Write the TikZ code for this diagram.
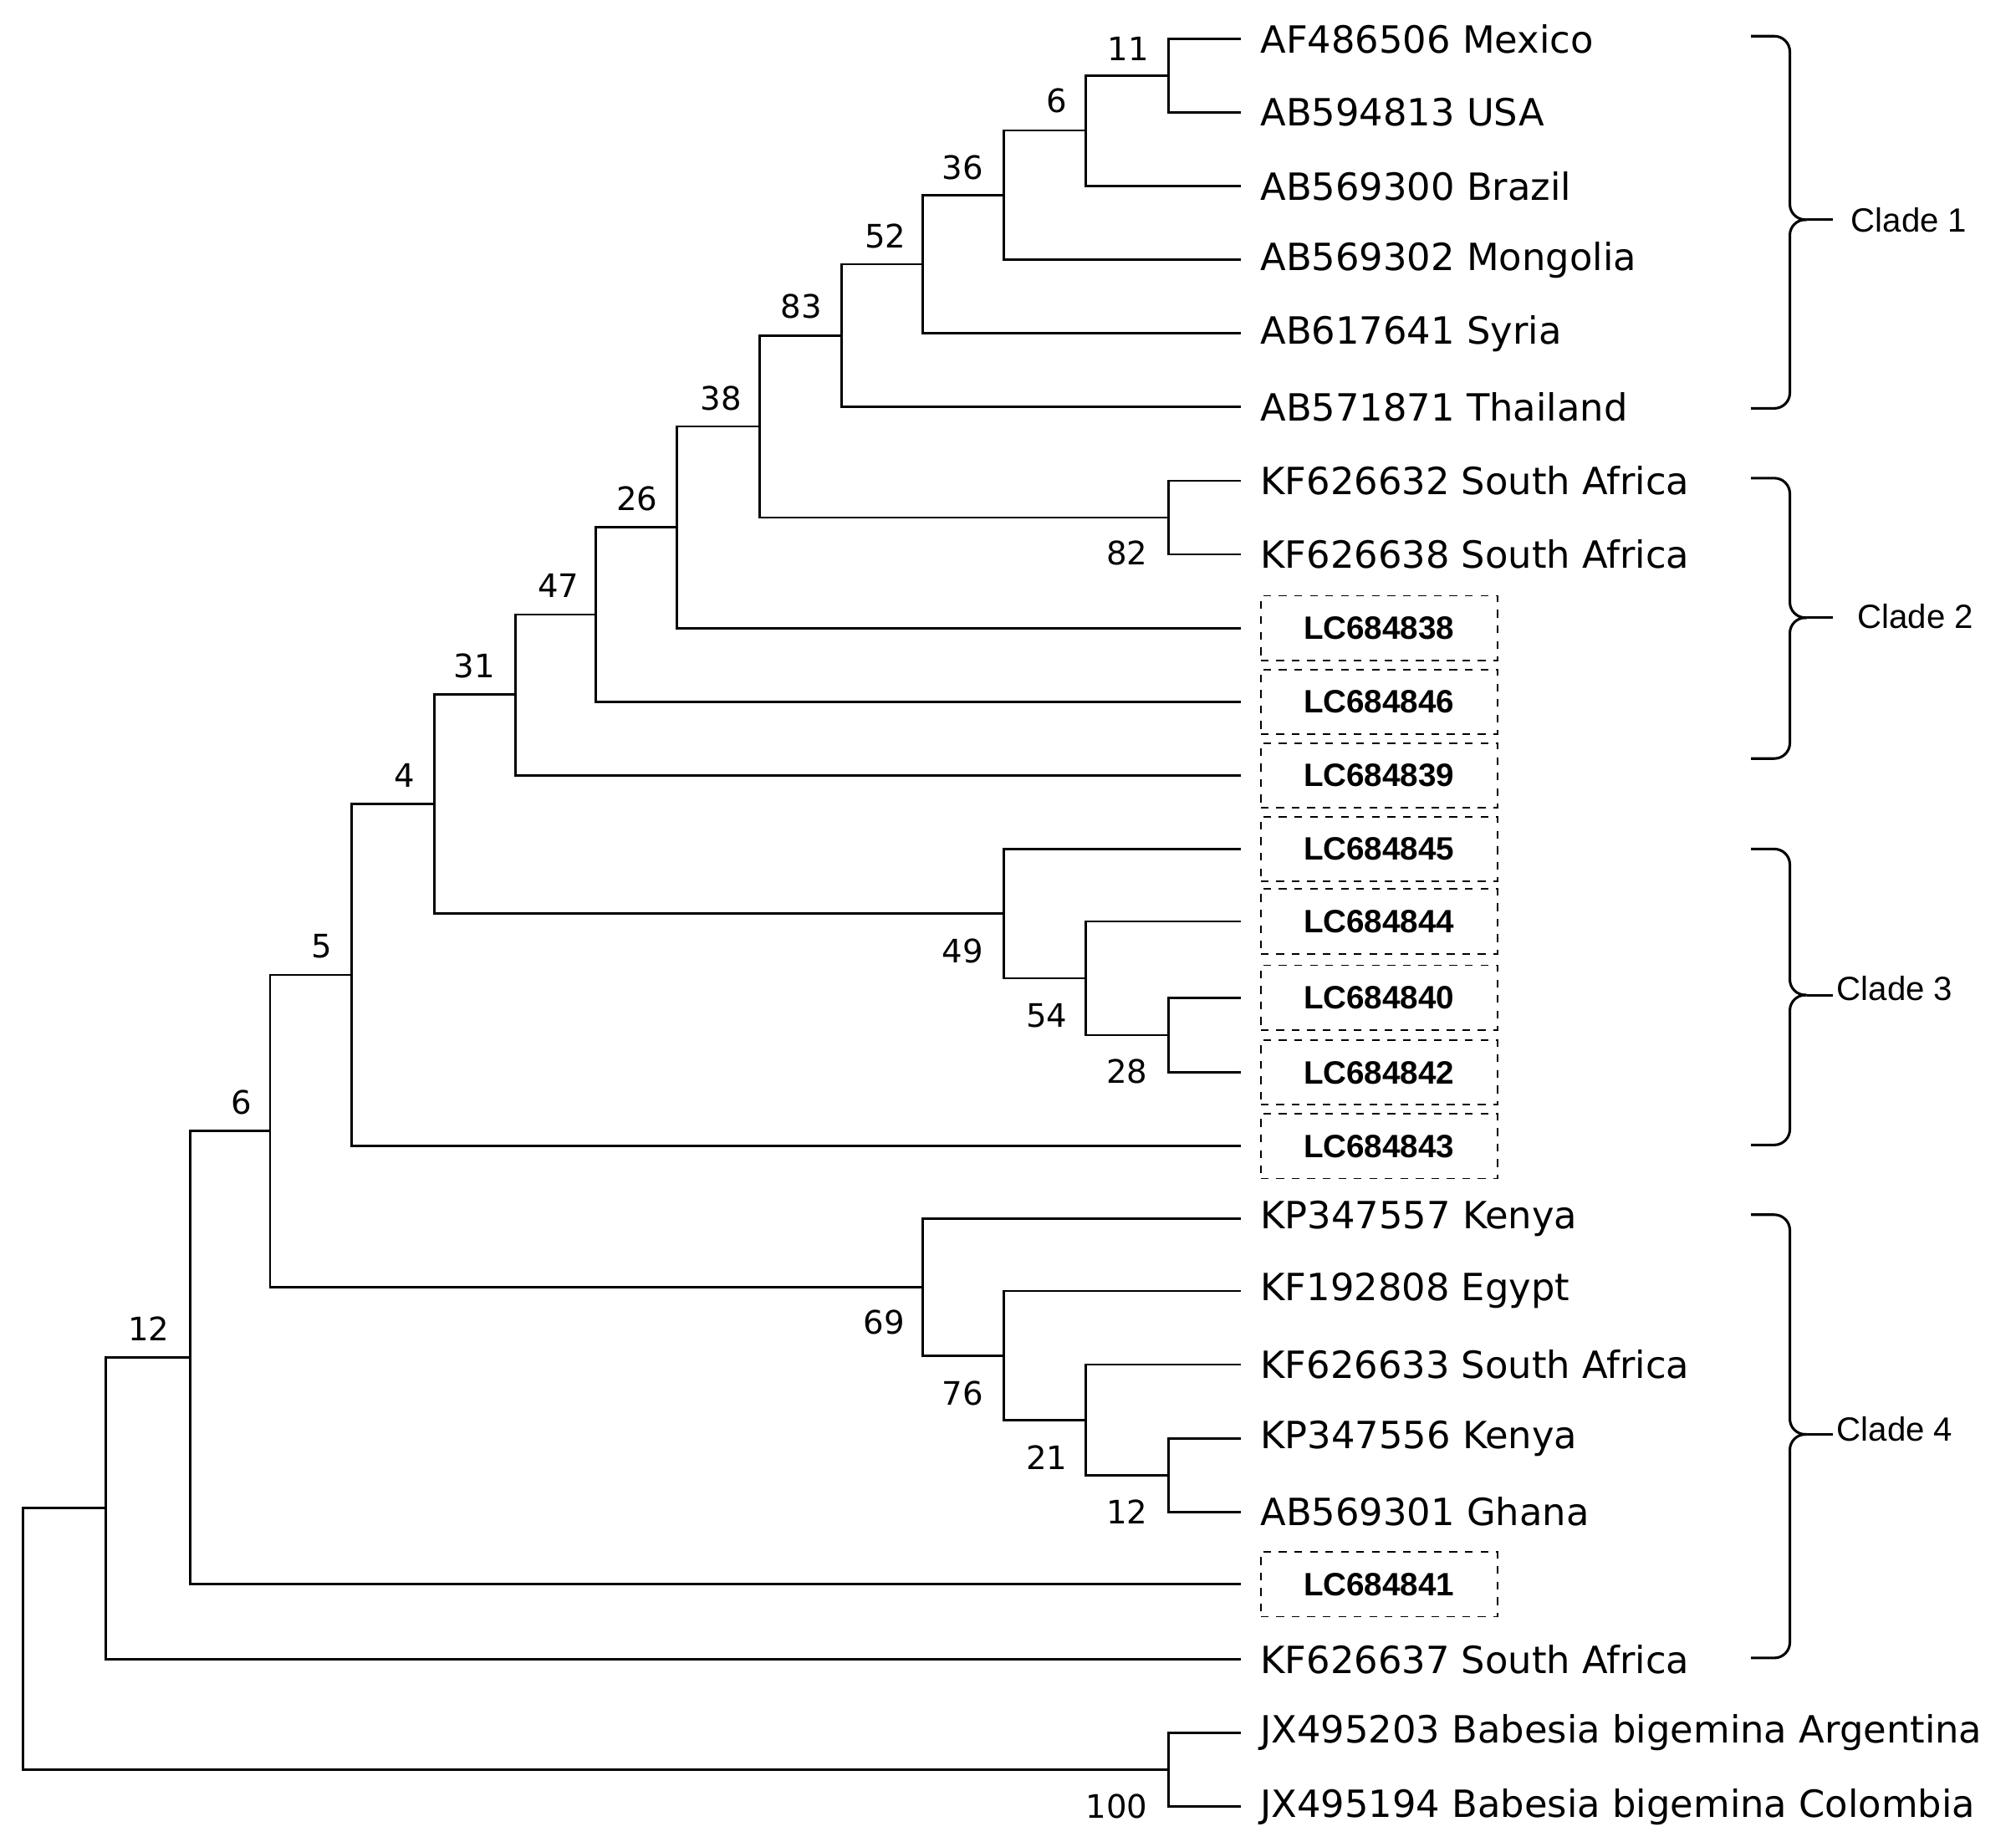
\documentclass[tikz,border=0pt]{standalone}
\usepackage{fontspec}
\setmainfont{DejaVu Sans}
\newfontfamily\arialf{Liberation Sans}
\begin{document}
\begin{tikzpicture}[x=0.5pt,y=-0.5pt,
  br/.style={line width=0.9pt},
  leaf/.style={anchor=west,inner sep=0pt,font=\fontsize{14.5}{14.5}\selectfont},
  boxleaf/.style={anchor=west,draw,dashed,line width=0.6pt,minimum width=91.5pt,minimum height=25pt,inner sep=0pt,font=\arialf\bfseries\fontsize{12.5}{12.5}\selectfont},
  bs/.style={font=\fontsize{12.5}{12.5}\selectfont,inner sep=0pt},
  clade/.style={anchor=west,inner sep=0pt,font=\arialf\fontsize{13}{13}\selectfont},
  brace/.style={line width=1pt,rounded corners=6pt}]
\useasboundingbox (0,0) rectangle (1560,1429);
% leaves
\foreach \i/\y in {1/30,2/87,3/144,4/201,5/258,6/315,7/372,8/429,9/486,10/543,11/600,12/657,13/713,14/772,15/830,16/887,17/943,18/999,19/1056,20/1113,21/1170,22/1226,23/1284,24/1341,25/1398}
  \coordinate (e\i) at (960,\y);
\node[leaf] (t1) at (975,30) {AF486506 Mexico};
\node[leaf] (t2) at (975,87) {AB594813 USA};
\node[leaf] (t3) at (975,144) {AB569300 Brazil};
\node[leaf] (t4) at (975,201) {AB569302 Mongolia};
\node[leaf] (t5) at (975,258) {AB617641 Syria};
\node[leaf] (t6) at (975,315) {AB571871 Thailand};
\node[leaf] (t7) at (975,372) {KF626632 South Africa};
\node[leaf] (t8) at (975,429) {KF626638 South Africa};
\node[boxleaf] (t9) at (975,486) {LC684838};
\node[boxleaf] (t10) at (975,543) {LC684846};
\node[boxleaf] (t11) at (975,600) {LC684839};
\node[boxleaf] (t12) at (975,657) {LC684845};
\node[boxleaf] (t13) at (975,713) {LC684844};
\node[boxleaf] (t14) at (975,772) {LC684840};
\node[boxleaf] (t15) at (975,830) {LC684842};
\node[boxleaf] (t16) at (975,887) {LC684843};
\node[leaf] (t17) at (975,943) {KP347557 Kenya};
\node[leaf] (t18) at (975,999) {KF192808 Egypt};
\node[leaf] (t19) at (975,1056) {KF626633 South Africa};
\node[leaf] (t20) at (975,1113) {KP347556 Kenya};
\node[leaf] (t21) at (975,1170) {AB569301 Ghana};
\node[boxleaf] (t22) at (975,1226) {LC684841};
\node[leaf] (t23) at (975,1284) {KF626637 South Africa};
\node[leaf] (t24) at (975,1341) {JX495203 Babesia bigemina Argentina};
\node[leaf] (t25) at (975,1398) {JX495194 Babesia bigemina Colombia};
% internal nodes
\coordinate (n11) at (904,58.5);
\coordinate (n6) at (840,101);
\coordinate (n36) at (777,151);
\coordinate (n52) at (714,204.5);
\coordinate (n83) at (651,260);
\coordinate (n82) at (904,400.5);
\coordinate (n38) at (588,330);
\coordinate (n26) at (524,408);
\coordinate (n47) at (461,475.5);
\coordinate (n31) at (399,537.5);
\coordinate (n28) at (904,801);
\coordinate (n54) at (840,757);
\coordinate (n49) at (777,707);
\coordinate (n4) at (336,622);
\coordinate (n5) at (272,754.5);
\coordinate (n12b) at (904,1141.5);
\coordinate (n21) at (840,1099);
\coordinate (n76) at (777,1049);
\coordinate (n69) at (714,996);
\coordinate (n6b) at (209,875);
\coordinate (n12) at (147,1050.5);
\coordinate (na) at (82,1167);
\coordinate (n100) at (904,1369.5);
\coordinate (root) at (18,1268);
\foreach \p/\c in {n11/e1,n11/e2,n6/n11,n6/e3,n36/n6,n36/e4,n52/n36,n52/e5,n83/n52,n83/e6,
  n82/e7,n82/e8,n38/n83,n38/n82,n26/n38,n26/e9,n47/n26,n47/e10,n31/n47,n31/e11,
  n28/e14,n28/e15,n54/e13,n54/n28,n49/e12,n49/n54,n4/n31,n4/n49,n5/n4,n5/e16,
  n12b/e20,n12b/e21,n21/e19,n21/n12b,n76/e18,n76/n21,n69/e17,n69/n76,n6b/n5,n6b/n69,
  n12/n6b,n12/e22,na/n12,na/e23,n100/e24,n100/e25,root/na,root/n100}
  \draw[br] (\p) |- (\c);
% bootstrap labels
\foreach \l/\x/\y in {11/873/38,6/818/78,36/745/130,52/685/183,83/620/237,38/558/308,82/872/428,26/493/386,47/432/453,31/367/515,49/745/736,54/810/786,28/872/829,4/313/600,5/249/732,21/810/1128,12/872/1170,76/745/1078,69/684/1023,6/187/853,12/115/1028,100/864/1398}
  \node[bs] at (\x,\y) {\l};
% clade braces
\foreach \t/\b/\m/\n in {28/316/170/1,370/587/478/2,657/886/770/3,940/1283/1110/4}{
  \draw[brace] (1355,\t) -- (1385,\t) -- (1385,\m) -- (1398,\m);
  \draw[brace] (1355,\b) -- (1385,\b) -- (1385,\m) -- (1398,\m);
  \draw[line width=1pt] (1398,\m) -- (1418,\m);
}
\node[clade] (c1) at (1432,170) {Clade 1};
\node[clade] (c2) at (1437,477) {Clade 2};
\node[clade] (c3) at (1421,765) {Clade 3};
\node[clade] (c4) at (1421,1106) {Clade 4};
\end{tikzpicture}
\end{document}
